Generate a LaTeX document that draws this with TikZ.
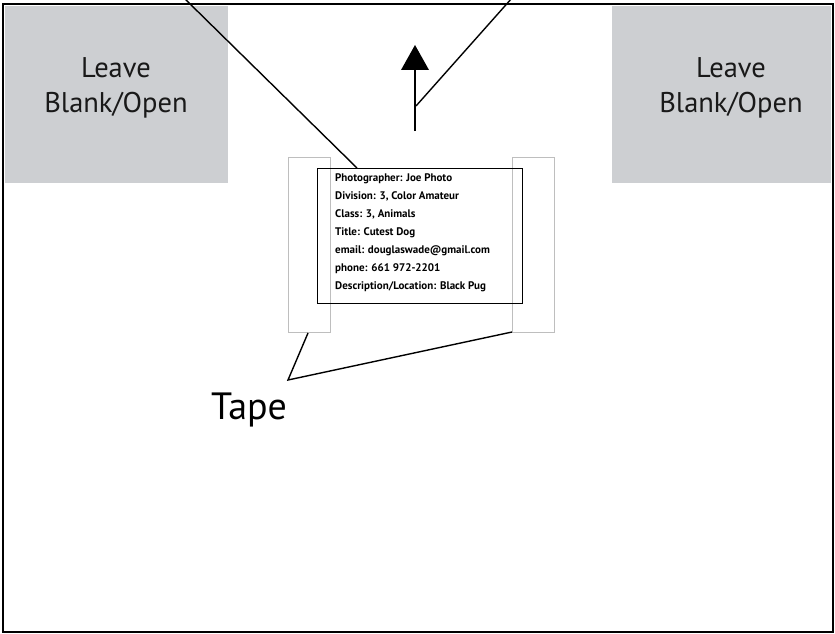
\documentclass[tikz,border=0pt]{standalone}
\usepackage{fontspec}
\setmainfont{PT Sans}
\definecolor{blankgray}{RGB}{205,207,210}
\definecolor{tapegray}{RGB}{190,190,190}
\begin{document}
\begin{tikzpicture}[x=1pt,y=-1pt,
  blankbox/.style={fill=blankgray,draw=none},
  blanktext/.style={font=\fontsize{28.5}{35}\selectfont,align=center,text=black!90},
  tapebox/.style={draw=tapegray,line width=0.8pt},
  labelbox/.style={draw=black,line width=0.9pt},
  pointer/.style={draw=black,line width=1.4pt},
  infotext/.style={font=\fontsize{11}{18}\selectfont\bfseries,align=left,anchor=north west,inner sep=0pt}]
\useasboundingbox (0,0) rectangle (835,634);
% gray blank areas
\fill[blankgray] (5,6) rectangle (228,183);
\fill[blankgray] (612,6) rectangle (831,183);
\node[blanktext] (leftblank) at (116,88) {Leave\\Blank/Open};
\node[blanktext] (rightblank) at (731,88) {Leave\\Blank/Open};
% outer frame
\draw[line width=1.8pt] (3,4) rectangle (833,632);
% tape rectangles
\node[tapebox,minimum width=42pt,minimum height=175pt,inner sep=0pt] (tapeL) at (309,244.5) {};
\node[tapebox,minimum width=42pt,minimum height=175pt,inner sep=0pt] (tapeR) at (533,244.5) {};
% label box
\node[labelbox,minimum width=205pt,minimum height=135pt,inner sep=0pt] (label) at (419.5,235.5) {};
\node[infotext] (info) at (335,173) {Photographer: Joe Photo\\Division: 3, Color Amateur\\Class: 3, Animals\\Title: Cutest Dog\\email: douglaswade@gmail.com\\phone: 661 972-2201\\Description/Location: Black Pug};
% arrow
\coordinate (arrowbase) at (415,131);
\coordinate (arrowtip) at (415,45);
\draw[line width=1.1pt] (arrowbase) -- (415,70);
\fill (arrowtip) -- (401,70) -- (429,70) -- cycle;
% pointer lines from top
\coordinate (topA) at (184,-2);
\coordinate (topB) at (512,-2);
\coordinate (labelcorner) at (357,168);
\coordinate (shaftpt) at (416,106);
\draw[pointer] (topA) -- (labelcorner);
\draw[pointer] (topB) -- (shaftpt);
% tape pointer
\coordinate (tapeV) at (288,380);
\coordinate (tapeLend) at (308,333);
\coordinate (tapeRend) at (512,332);
\draw[pointer] (tapeLend) -- (tapeV) -- (tapeRend);
\node[font=\fontsize{38}{44}\selectfont,anchor=base west,inner sep=0pt] (tape) at (211,419) {Tape};
\end{tikzpicture}
\end{document}
